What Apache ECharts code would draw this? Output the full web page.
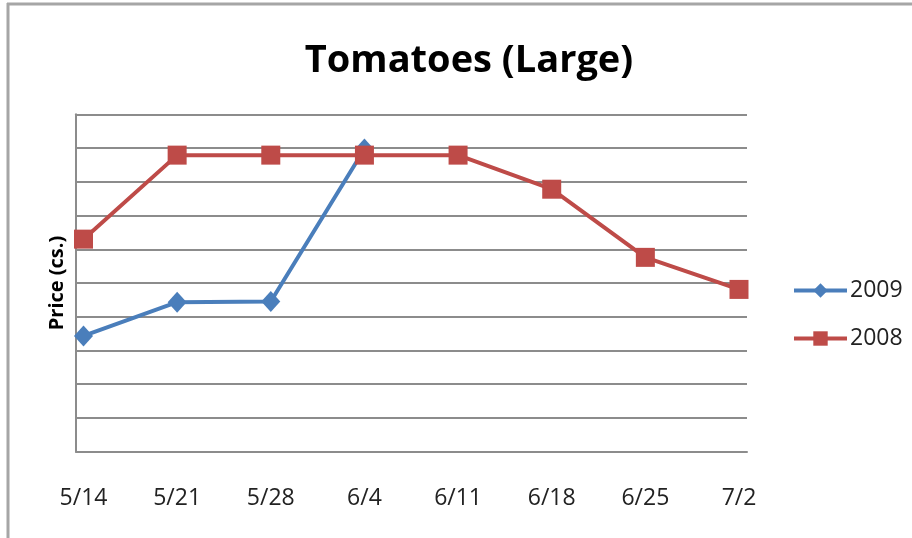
<!DOCTYPE html>
<html>
<head>
<meta charset="utf-8">
<script src="https://cdn.jsdelivr.net/npm/echarts@6/dist/echarts.min.js"></script>
<style>
html,body{margin:0;padding:0;background:#fff;}
#chart{width:912px;height:538px;}
</style>
</head>
<body>
<div id="chart"></div>
<script>
var categories = ['5/14','5/21','5/28','6/4','6/11','6/18','6/25','7/2'];
var series2009 = [3.43, 4.43, 4.45, 8.97];
var series2008 = [6.30, 8.79, 8.79, 8.79, 8.79, 7.78, 5.76, 4.81];
var seriesNames = ['2009','2008'];
var titleText = 'Tomatoes (Large)';
var yAxisName = 'Price (cs.)';

var chart = echarts.init(document.getElementById('chart'), null, {renderer:'canvas'});
var labelFont = 'Open Sans';
var option = {
  backgroundColor: '#ffffff',
  animation: false,
  title: {
    text: titleText,
    left: 464, top: 37, textAlign: 'center',
    textStyle: {fontFamily: labelFont, fontWeight: 'bold', fontSize: 38, color: '#000'}
  },
  legend: {
    data: seriesNames,
    orient: 'vertical',
    left: 787, top: 274,
    itemWidth: 53, itemHeight: 18, itemGap: 25,
    lineStyle: {width: 4},
    textStyle: {fontFamily: labelFont, fontSize: 23, color: '#222', padding: [0,0,0,-2]}
  },
  grid: [
    {left: 76, right: 165, top: 114.3, bottom: 86.3, containLabel: false},
    {left: 83.5, right: 173, top: 114.3, bottom: 86.3, containLabel: false}
  ],
  xAxis: [
    {type: 'category', gridIndex: 0, data: categories, boundaryGap: false,
     axisLine: {show: true, lineStyle: {color: '#8c8c8c', width: 2}},
     axisTick: {show: false}, axisLabel: {show: false}, splitLine: {show: false}},
    {type: 'category', gridIndex: 1, data: categories, boundaryGap: false,
     axisLine: {show: false}, axisTick: {show: false},
     axisLabel: {show: true, margin: 35, fontFamily: labelFont, fontSize: 23, color: '#222'},
     splitLine: {show: false}}
  ],
  yAxis: [
    {type: 'value', gridIndex: 0, min: 0, max: 10, interval: 1,
     name: yAxisName, nameLocation: 'middle', nameGap: 9, nameRotate: 90,
     nameTextStyle: {fontFamily: labelFont, fontWeight: 'bold', fontSize: 20, color: '#000'},
     axisLine: {show: true, lineStyle: {color: '#8c8c8c', width: 2}},
     axisTick: {show: false}, axisLabel: {show: false},
     splitLine: {show: true, lineStyle: {color: '#8c8c8c', width: 2}}},
    {type: 'value', gridIndex: 1, min: 0, max: 10, interval: 1,
     axisLine: {show: false}, axisTick: {show: false}, axisLabel: {show: false},
     splitLine: {show: false}}
  ],
  graphic: [
    {type: 'line', shape: {x1: 7, y1: 4, x2: 912, y2: 4}, style: {stroke: '#a6a6a6', lineWidth: 3}, silent: true},
    {type: 'line', shape: {x1: 8, y1: 3, x2: 8, y2: 538}, style: {stroke: '#a6a6a6', lineWidth: 3}, silent: true}
  ],
  series: [
    {name: seriesNames[0], type: 'line', xAxisIndex: 1, yAxisIndex: 1, data: series2009,
     symbol: 'diamond', symbolSize: [19, 21], showAllSymbol: true,
     lineStyle: {color: '#4a7ebb', width: 4}, itemStyle: {color: '#4a7ebb'}},
    {name: seriesNames[1], type: 'line', xAxisIndex: 1, yAxisIndex: 1, data: series2008,
     symbol: 'rect', symbolSize: 19, showAllSymbol: true,
     lineStyle: {color: '#be4b48', width: 4}, itemStyle: {color: '#be4b48'}}
  ]
};
chart.setOption(option);
</script>
</body>
</html>
